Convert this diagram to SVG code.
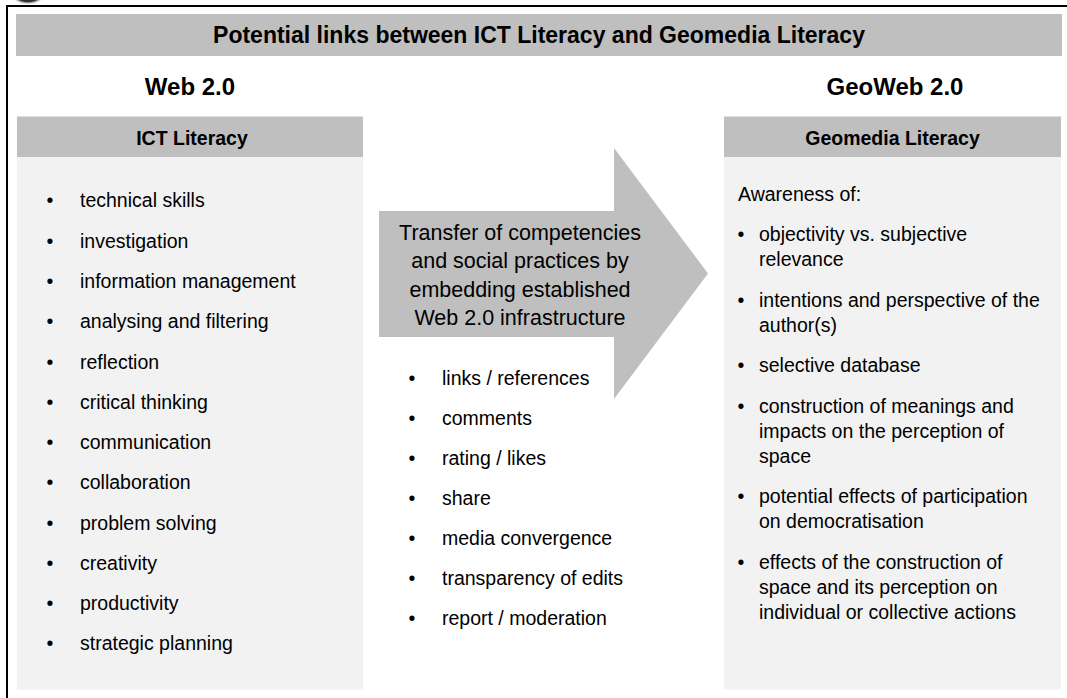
<svg xmlns="http://www.w3.org/2000/svg" width="1067" height="698" viewBox="0 0 1067 698">
  <defs>
    <radialGradient id="logoGrad" cx="0.5" cy="0.5" r="0.5">
      <stop offset="0" stop-color="#111"/>
      <stop offset="0.7" stop-color="#333"/>
      <stop offset="1" stop-color="#fff" stop-opacity="0"/>
    </radialGradient>
  </defs>
  <style>
    text { font-family: "Liberation Sans", Arial, sans-serif; fill: #000; }
    .title { font-size: 23px; font-weight: bold; }
    .web { font-size: 24px; font-weight: bold; }
    .hdr { font-size: 19.5px; font-weight: bold; }
    .item { font-size: 19.5px; }
    .arrowtxt { font-size: 21.5px; }
    .bar { fill: #bfbfbf; }
    .body { fill: #f2f2f2; }
  </style>
  <rect width="1067" height="698" fill="#ffffff"/>
  <ellipse cx="28" cy="-6" rx="18" ry="11" fill="url(#logoGrad)"/>
  <rect x="7" y="6" width="1080" height="710" fill="none" stroke="#000" stroke-width="2"/>

  <g id="title">
    <rect class="bar" x="16" y="14" width="1046" height="42"/>
    <text class="title" x="539" y="43" text-anchor="middle">Potential links between ICT Literacy and Geomedia Literacy</text>
  </g>

  <g id="web20">
    <text class="web" x="190" y="95" text-anchor="middle">Web 2.0</text>
  </g>
  <g id="geoweb20">
    <text class="web" x="895" y="95" text-anchor="middle">GeoWeb 2.0</text>
  </g>

  <g id="ict-literacy">
    <rect class="bar" x="17" y="116.5" width="346" height="40.5"/>
    <rect class="body" x="17" y="157" width="346" height="532.5"/>
    <text class="hdr" x="192" y="145" text-anchor="middle">ICT Literacy</text>
    <g class="item">
      <text x="50" y="207" text-anchor="middle">•</text><text x="80" y="207">technical skills</text>
      <text x="50" y="247.5" text-anchor="middle">•</text><text x="80" y="247.5">investigation</text>
      <text x="50" y="288" text-anchor="middle">•</text><text x="80" y="288">information management</text>
      <text x="50" y="328" text-anchor="middle">•</text><text x="80" y="328">analysing and filtering</text>
      <text x="50" y="368.5" text-anchor="middle">•</text><text x="80" y="368.5">reflection</text>
      <text x="50" y="408.5" text-anchor="middle">•</text><text x="80" y="408.5">critical thinking</text>
      <text x="50" y="449" text-anchor="middle">•</text><text x="80" y="449">communication</text>
      <text x="50" y="489" text-anchor="middle">•</text><text x="80" y="489">collaboration</text>
      <text x="50" y="529.5" text-anchor="middle">•</text><text x="80" y="529.5">problem solving</text>
      <text x="50" y="569.5" text-anchor="middle">•</text><text x="80" y="569.5">creativity</text>
      <text x="50" y="610" text-anchor="middle">•</text><text x="80" y="610">productivity</text>
      <text x="50" y="650" text-anchor="middle">•</text><text x="80" y="650">strategic planning</text>
    </g>
  </g>

  <g id="connectors">
    <polygon class="bar" points="379,211 614,211 614,148 708,273.5 614,399 614,337 379,337"/>
    <g class="arrowtxt">
      <text x="520" y="239.5" text-anchor="middle">Transfer of competencies</text>
      <text x="520" y="268" text-anchor="middle">and social practices by</text>
      <text x="520" y="296.5" text-anchor="middle">embedding established</text>
      <text x="520" y="325" text-anchor="middle">Web 2.0 infrastructure</text>
    </g>
  </g>

  <g id="infrastructure">
    <g class="item">
      <text x="412" y="385" text-anchor="middle">•</text><text x="442" y="385">links / references</text>
      <text x="412" y="425" text-anchor="middle">•</text><text x="442" y="425">comments</text>
      <text x="412" y="465" text-anchor="middle">•</text><text x="442" y="465">rating / likes</text>
      <text x="412" y="505" text-anchor="middle">•</text><text x="442" y="505">share</text>
      <text x="412" y="545" text-anchor="middle">•</text><text x="442" y="545">media convergence</text>
      <text x="412" y="585" text-anchor="middle">•</text><text x="442" y="585">transparency of edits</text>
      <text x="412" y="625" text-anchor="middle">•</text><text x="442" y="625">report / moderation</text>
    </g>
  </g>

  <g id="geomedia-literacy">
    <rect class="bar" x="724" y="116.5" width="337" height="40.5"/>
    <rect class="body" x="724" y="157" width="337" height="532.5"/>
    <text class="hdr" x="892.5" y="145" text-anchor="middle">Geomedia Literacy</text>
    <g class="item">
      <text x="738" y="201">Awareness of:</text>
      <text x="741" y="241" text-anchor="middle">•</text>
      <text x="759" y="241">objectivity vs. subjective</text>
      <text x="759" y="266">relevance</text>
      <text x="741" y="306.5" text-anchor="middle">•</text>
      <text x="759" y="306.5">intentions and perspective of the</text>
      <text x="759" y="331.5">author(s)</text>
      <text x="741" y="372" text-anchor="middle">•</text>
      <text x="759" y="372">selective database</text>
      <text x="741" y="412.5" text-anchor="middle">•</text>
      <text x="759" y="412.5">construction of meanings and</text>
      <text x="759" y="437.5">impacts on the perception of</text>
      <text x="759" y="462.5">space</text>
      <text x="741" y="503" text-anchor="middle">•</text>
      <text x="759" y="503">potential effects of participation</text>
      <text x="759" y="528">on democratisation</text>
      <text x="741" y="568.5" text-anchor="middle">•</text>
      <text x="759" y="568.5">effects of the construction of</text>
      <text x="759" y="593.5">space and its perception on</text>
      <text x="759" y="618.5">individual or collective actions</text>
    </g>
  </g>
</svg>
